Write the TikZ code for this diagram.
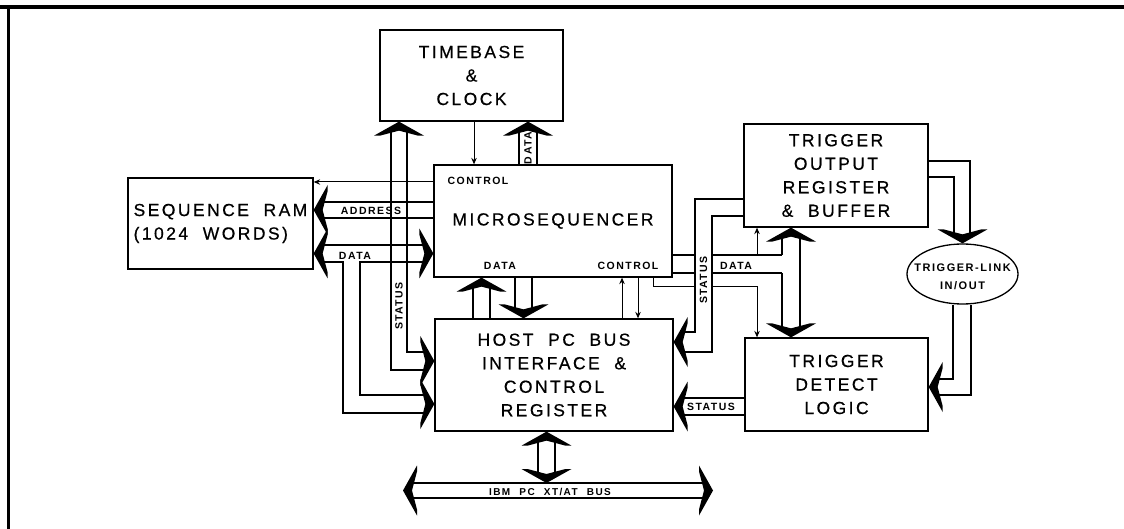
\documentclass[tikz,border=0pt]{standalone}
\usepackage{fontspec}
\setmainfont{Liberation Sans}[LetterSpace=14,WordSpace=2.0,FakeBold=0.6]
\newfontfamily\smallf{Liberation Sans}[LetterSpace=14,WordSpace=2.2]
\usetikzlibrary{arrows.meta,shapes.geometric}
\tikzset{
  box/.style={draw, line width=1.3pt, inner sep=0pt, align=center, font=\fontsize{17.5}{23.5}\selectfont},
  bl/.style={line width=1.1pt},
  ctl/.style={line width=1pt, -{Stealth[length=6.5pt,width=5.5pt]}},
  lab/.style={font={\smallf\bfseries\fontsize{10.5}{12}\selectfont}, inner sep=0pt},
}
\newcommand{\fhead}[2]{\fill[shift={#1},rotate=#2] (0,0) -- (-14,25) -- (-14,19) -- (-9,0) -- (-14,-19) -- (-14,-25) -- cycle;}
\begin{document}
\begin{tikzpicture}[x=1pt,y=-1pt]
\useasboundingbox (0,0) rectangle (1124,529);
\draw[line width=4pt] (0,7.5) -- (1124,7.5);
\draw[line width=3pt] (8.5,7.5) -- (8.5,529);

% blocks
\node[box, minimum width=183pt, minimum height=91pt] (tb) at (471.5,75.5) {TIMEBASE\\\&\\CLOCK};
\node[box, minimum width=185pt, minimum height=91pt, align=left] (ram) at (220.5,223.5) {SEQUENCE RAM\\(1024 WORDS)};
\node[box, minimum width=238pt, minimum height=112pt] (mic) at (553,221) {MICROSEQUENCER};
\node[box, minimum width=238pt, minimum height=112pt] (host) at (554,375) {HOST PC BUS\\INTERFACE \&\\CONTROL\\REGISTER};
\node[box, minimum width=184pt, minimum height=103pt] (tout) at (836,175.5) {TRIGGER\\OUTPUT\\REGISTER\\\& BUFFER};
\node[box, minimum width=183pt, minimum height=93pt] (tdet) at (836.5,384.5) {TRIGGER\\DETECT\\LOGIC};
\node[draw, ellipse, line width=1.3pt, minimum width=111pt, minimum height=60pt, inner sep=0pt] (link) at (962.5,274) {};
\node[align=center, inner sep=0pt, font={\smallf\bfseries\fontsize{11}{18}\selectfont}] (linktxt) at (962.5,277) {TRIGGER-LINK\\IN/OUT};

% timebase -> micro control
\draw[ctl] (474,0 |- tb.south) -- (474,0 |- mic.north);

% DATA micro -> timebase
\draw[bl] (519,0 |- mic.north) -- (519,128);
\draw[bl] (537,0 |- mic.north) -- (537,128);
\fhead{(528,0 |- tb.south)}{90}
\node[lab, rotate=90] (ldata1) at (528,148) {DATA};

% STATUS host <-> timebase
\draw[bl] (391,128) -- (391,370) -- (428,370);
\draw[bl] (407,128) -- (407,352) -- (428,352);
\fhead{(399,0 |- tb.south)}{90}
\fhead{(host.west |- 0,361)}{0}
\node[lab, rotate=90] (lstat1) at (399,306) {STATUS};

% ADDRESS micro -> ram
\draw[bl] (mic.west |- 0,202) -- (320,202);
\draw[bl] (mic.west |- 0,218) -- (320,218);
\fhead{(ram.east |- 0,210)}{180}
\node[lab] (laddr) at (371,211) {ADDRESS};

% CONTROL micro -> ram
\draw[ctl] (mic.west |- 0,182) -- (ram.east |- 0,182);
\node[lab] (lctl1) at (478,181) {CONTROL};

% DATA ram <-> micro, branch to host
\draw[bl] (320,245) -- (427,245);
\draw[bl] (320,262) -- (343,262) -- (343,413) -- (428,413);
\draw[bl] (427,262) -- (360,262) -- (360,395) -- (428,395);
\fhead{(ram.east |- 0,253.5)}{180}
\fhead{(mic.west |- 0,253.5)}{0}
\fhead{(host.west |- 0,404)}{0}
\node[lab] (ldata2) at (355,256) {DATA};

% host <-> micro data
\draw[bl] (473,0 |- host.north) -- (473,284);
\draw[bl] (490,0 |- host.north) -- (490,284);
\fhead{(481.5,0 |- mic.south)}{90}
\draw[bl] (515,0 |- mic.south) -- (515,312);
\draw[bl] (532,0 |- mic.south) -- (532,312);
\fhead{(523.5,0 |- host.north)}{-90}
\node[lab] (ldata3) at (500,266) {DATA};

% host <-> micro control
\draw[ctl] (622,0 |- host.north) -- (622,0 |- mic.south);
\draw[ctl] (638,0 |- mic.south) -- (638,0 |- host.north);
\node[lab] (lctl2) at (628,266) {CONTROL};

% STATUS trigger output -> host
\draw[bl] (tout.west |- 0,199) -- (695,199) -- (695,332) -- (680,332);
\draw[bl] (tout.west |- 0,216) -- (712,216) -- (712,352) -- (680,352);
\fhead{(host.east |- 0,342)}{180}
\node[lab, rotate=90] (lstat2) at (703.5,280) {STATUS};

% DATA micro -> trigger bus
\draw[bl] (mic.east |- 0,255) -- (695,255);
\draw[bl] (712,255) -- (782,255);
\draw[bl] (mic.east |- 0,273) -- (695,273);
\draw[bl] (712,273) -- (782,273);
\node[lab] (ldata4) at (736,266) {DATA};

% trigger output <-> trigger detect
\draw[bl] (782,234) -- (782,255);
\draw[bl] (782,273) -- (782,331);
\draw[bl] (800,234) -- (800,331);
\fhead{(791,0 |- tout.south)}{90}
\fhead{(791,0 |- tdet.north)}{-90}

% control to trigger blocks
\draw[line width=1pt] (653,0 |- mic.south) -- (653,287) -- (695,287);
\draw[ctl] (712,287) -- (757,287) -- (757,0 |- tdet.north);
\draw[ctl] (757,255) -- (757,0 |- tout.south);

% trigger output -> link
\draw[bl] (tout.east |- 0,161) -- (970,161) -- (970,237);
\draw[bl] (tout.east |- 0,177) -- (954,177) -- (954,237);
\fhead{(link.north)}{-90}

% link -> trigger detect
\draw[bl] (953,0 |- link.south) -- (953,379) -- (935,379);
\draw[bl] (971,0 |- link.south) -- (971,395) -- (935,395);
\fhead{(tdet.east |- 0,387)}{180}

% trigger detect -> host status
\draw[bl] (tdet.west |- 0,398) -- (680,398);
\draw[bl] (tdet.west |- 0,415) -- (680,415);
\fhead{(host.east |- 0,406.5)}{180}
\node[lab] (lstat3) at (711,407) {STATUS};

% host <-> PC bus
\coordinate (bus) at (546.5,483);
\draw[bl] (538,438) -- (538,476);
\draw[bl] (555,438) -- (555,476);
\fhead{(546.5,0 |- host.south)}{90}
\fhead{(bus)}{-90}
\draw[bl] (410,483) -- (706,483);
\draw[bl] (410,498) -- (706,498);
\fhead{(403,490.5)}{180}
\fhead{(713,490.5)}{0}
\node[lab, font={\smallf\bfseries\fontsize{10}{11}\selectfont}] (lbus) at (550,492) {IBM PC XT/AT BUS};
\end{tikzpicture}
\end{document}
